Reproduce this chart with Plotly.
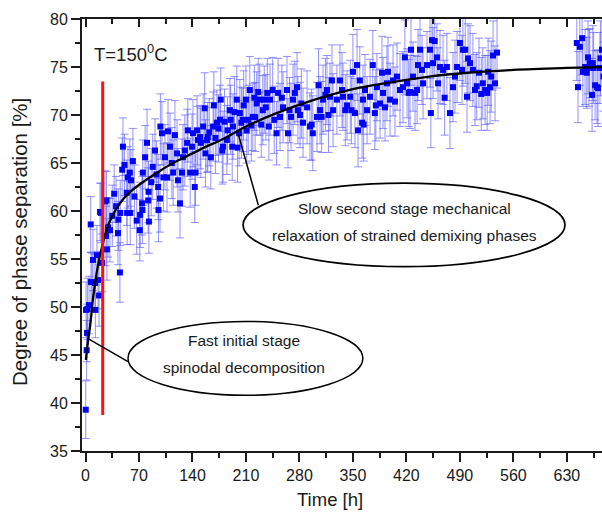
import plotly.graph_objects as go

# ---------------- data ----------------
time_early = [0.3, 0.7, 1.5, 2.0, 2.5, 4.6, 6.8, 7.2, 8.5, 9.8,
              12.4, 12.9, 15.0, 16.4, 17.7, 19.0, 20.3, 21.6, 25.5, 26.8,
              27.5, 28.0, 29.5, 32.0, 35.0, 37.5, 40.0]
sep_early = [39.3, 49.7, 45.5, 47.3, 49.8, 50.2, 58.6, 52.6, 52.6, 54.9,
             52.5, 49.7, 55.4, 52.8, 51.2, 59.9, 59.8, 54.6, 61.0, 57.4,
             61.1, 56.0, 58.3, 58.0, 59.5, 61.8, 60.5]
err_early = [3.0, 2.9, 3.1, 3.0, 3.2, 3.0, 2.9, 3.1, 3.0, 3.2,
             3.0, 2.9, 3.1, 3.0, 3.2, 3.0, 3.1, 3.0, 3.2, 3.1,
             3.0, 3.2, 3.1, 3.3, 3.2, 3.0, 3.1]

time_b = [42.5, 43.0, 45.0, 45.5, 48.0, 49.0, 51.0, 54.0, 54.5, 55.6,
          58.0, 58.5, 59.5, 62.0, 64.0, 67.0, 71.0, 71.5, 74.0, 74.5,
          75.0, 78.0, 80.5, 82.0, 82.5, 83.0, 86.0, 88.0, 91.0, 93.0,
          95.0, 95.5, 97.5, 98.0, 100.0, 102.0]
sep_b = [57.7, 59.1, 53.6, 59.8, 64.3, 66.7, 64.8, 61.9, 59.8, 63.5,
         64.0, 59.8, 63.2, 65.2, 61.5, 59.0, 58.0, 59.6, 60.8, 60.1,
         64.0, 65.6, 67.1, 61.1, 62.0, 58.9, 63.0, 64.6, 66.3, 63.8,
         62.5, 60.1, 61.3, 68.8, 68.1, 63.5]
err_b = [3.3, 3.2, 3.1, 3.4, 3.3, 3.0, 3.2, 3.4, 3.3, 3.2,
         3.5, 3.3, 3.2, 3.4, 3.3, 3.5, 3.2, 3.4, 3.3, 3.5,
         3.4, 3.3, 3.5, 3.4, 3.2, 3.3, 3.5, 3.4, 3.3, 3.5,
         3.4, 3.3, 3.5, 3.4, 3.3, 3.5]

time_c = [104, 106.7, 108, 110.6, 113, 114.7, 117, 119.8, 121, 123.7,
          126.3, 127.6, 130, 133, 134, 137, 139.4, 140.7, 143, 144,
          146, 147, 150, 151, 154, 156, 157, 159, 160, 162,
          164, 167, 168, 170, 172, 174, 176, 177, 179, 180,
          182, 185, 186, 189, 190, 192, 193, 195, 198, 199,
          201, 202, 204, 206, 207, 210, 211, 213, 215, 217,
          219, 221, 222, 224, 226, 228, 230, 232, 234, 236,
          238, 240, 241.5, 245, 247, 250, 252, 254.6, 257, 258.5,
          263.7, 265, 267, 269, 271.6, 274, 276.8, 278, 280.8, 282.5]
sep_c = [65.6, 63.5, 68.3, 66.7, 65.0, 64.0, 67.9, 66.0, 63.2, 60.8,
         64.0, 65.6, 66.3, 67.1, 68.4, 64.0, 66.7, 68.1, 62.5, 64.0,
         68.4, 67.4, 67.7, 67.1, 68.8, 70.7, 66.0, 67.4, 67.7, 68.2,
         65.6, 68.8, 71.0, 67.6, 69.2, 68.6, 69.5, 71.6, 66.3, 66.7,
         69.3, 67.4, 68.4, 70.5, 69.5, 66.7, 68.8, 70.3, 71.6, 66.6,
         68.1, 70.2, 69.2, 69.5, 71.0, 71.6, 68.4, 69.5, 72.6, 68.9,
         69.8, 71.8, 69.8, 71.2, 72.4, 71.6, 69.0, 70.5, 71.6, 70.8,
         72.3, 68.8, 71.6, 72.6, 69.5, 68.1, 72.3, 69.8, 71.8, 70.8,
         72.6, 68.1, 70.5, 69.8, 71.6, 72.3, 72.9, 70.5, 70.0, 71.2]
err_c = [3.4, 3.6, 3.3, 3.5, 3.7, 3.4, 3.6, 3.5, 3.3, 3.6,
         3.5, 3.4, 3.7, 3.5, 3.3, 3.6, 3.4, 3.5, 3.7, 3.4,
         3.6, 3.5, 3.3, 3.6, 3.4, 3.7, 3.5, 3.4, 3.6, 3.5,
         3.3, 3.6, 3.5, 3.7, 3.4, 3.5, 3.6, 3.3, 3.5, 3.7,
         3.4, 3.6, 3.5, 3.3, 3.6, 3.5, 3.4, 3.7, 3.5, 3.6,
         3.4, 3.5, 3.7, 3.3, 3.6, 3.5, 3.4, 3.6, 3.5, 3.7,
         3.5, 3.4, 3.6, 3.3, 3.5, 3.7, 3.4, 3.6, 3.5, 3.4,
         3.6, 3.5, 3.7, 3.4, 3.5, 3.3, 3.6, 3.5, 3.4, 3.7,
         3.5, 3.6, 3.4, 3.5, 3.7, 3.3, 3.6, 3.5, 3.4, 3.6]

time_d = [284.7, 290, 293.8, 296, 297.5, 303, 305, 307, 309, 310.9,
          314, 316, 318, 320, 322.6, 324, 329, 333, 335.7, 337,
          340, 342.3, 346.5, 348, 350, 352.7, 355.4, 356.7, 359, 362,
          363.2, 364, 365.8, 368.5, 372.4, 376, 378.7, 380, 381.4, 385.5,
          388, 389.4, 392, 394.5, 396, 398.6, 402.5, 405, 407.7, 411.6,
          415.5, 418, 420.8, 423, 424.7, 426, 428.6, 431.3, 434, 435.2,
          437.8, 440.4, 441.8, 447, 450.9, 452, 453.5, 454.8, 457, 460,
          461.4, 464, 468, 470, 473, 477, 481, 483.6, 486.3, 490,
          492.8, 494, 497, 499.3, 500.7, 503.3, 507, 509.8, 512, 515,
          518, 520, 523, 525.7, 527, 529.5, 531, 533.4, 536, 538.6]
sep_d = [69.2, 70.8, 68.8, 69.0, 68.1, 69.8, 73.1, 70.5, 69.8, 71.6,
         72.1, 72.6, 70.0, 71.9, 73.6, 70.5, 71.6, 73.6, 72.6, 71.9,
         70.5, 71.0, 71.9, 70.5, 74.5, 70.2, 75.2, 68.4, 73.6, 69.2,
         71.6, 69.0, 72.6, 70.5, 71.9, 75.2, 70.2, 71.0, 72.9, 71.2,
         74.4, 72.3, 70.8, 73.3, 74.5, 71.6, 73.6, 71.4, 74.0, 72.6,
         72.9, 76.0, 73.3, 72.3, 72.4, 76.8, 74.0, 72.3, 72.6, 75.2,
         76.8, 74.7, 73.3, 75.2, 76.8, 70.2, 77.8, 75.4, 77.7, 76.0,
         73.3, 75.0, 74.7, 71.8, 75.0, 70.2, 72.9, 74.0, 75.0, 77.5,
         74.7, 76.8, 76.8, 71.9, 75.9, 75.4, 74.7, 72.6, 73.0, 74.4,
         72.2, 73.3, 72.6, 72.3, 74.5, 72.9, 74.0, 76.2, 73.3, 76.5]
err_d = [3.6, 3.8, 3.5, 3.7, 3.9, 3.6, 3.8, 3.5, 3.7, 3.6,
         3.8, 3.6, 3.9, 3.5, 3.7, 3.8, 3.6, 3.7, 3.9, 3.5,
         3.7, 3.6, 3.8, 3.5, 3.9, 3.6, 3.7, 3.8, 3.5, 3.7,
         3.6, 3.8, 3.7, 3.5, 3.9, 3.6, 3.8, 3.7, 3.5, 3.6,
         3.8, 3.7, 3.5, 3.9, 3.6, 3.8, 3.7, 3.6, 3.5, 3.8,
         3.7, 3.9, 3.6, 3.5, 3.8, 3.7, 3.6, 3.9, 3.5, 3.7,
         3.8, 3.6, 3.7, 3.5, 3.9, 3.6, 3.8, 3.7, 3.6, 3.5,
         3.7, 3.8, 3.6, 3.9, 3.5, 3.7, 3.6, 3.8, 3.7, 3.9,
         3.6, 3.8, 3.5, 3.7, 3.6, 3.9, 3.8, 3.7, 3.5, 3.6,
         3.8, 3.7, 3.6, 3.9, 3.5, 3.8, 3.7, 3.6, 3.9, 3.7]

time_late = [643, 644.6, 647, 650, 651, 653.8, 656, 657.7, 659, 660,
             663, 664, 665, 667, 669.5, 670.8, 673.3, 674, 676, 678]
sep_late = [77.5, 72.9, 77.1, 78.0, 74.5, 75.0, 74.4, 76.0, 74.9, 75.4,
            72.1, 75.4, 74.9, 73.1, 72.9, 72.8, 74.9, 75.9, 76.8, 74.0]
err_late = [3.9, 3.7, 4.0, 3.8, 3.6, 3.9, 3.7, 3.8, 4.0, 3.6,
            3.8, 3.9, 3.7, 3.6, 3.8, 4.0, 3.7, 3.9, 3.8, 3.6]

# fitted curve
fit_time = [0.5, 3, 6, 10, 16, 22, 30, 40, 50, 60, 75, 90, 110, 130, 155,
            180, 210, 250, 300, 350, 400, 450, 500, 560, 630, 680]
fit_sep = [44.5, 46.3, 48.0, 51.0, 54.2, 56.4, 58.6, 60.2, 61.3, 62.1, 63.0,
           63.8, 64.8, 65.6, 66.6, 67.5, 68.8, 70.2, 71.6, 72.7, 73.4, 74.0,
           74.4, 74.7, 74.9, 75.0]

# red marker line (end of fast stage)
stage_line_time = [22.5, 22.5]
stage_line_sep = [38.75, 73.5]

# annotation pointer lines
pointer_fast_time = [55.6, 3.3]
pointer_fast_sep = [44.3, 46.7]
pointer_slow_time = [226.2, 200.0]
pointer_slow_sep = [60.6, 68.0]

x_ticks = [0, 70, 140, 210, 280, 350, 420, 490, 560, 630]
x_minor = [35, 105, 175, 245, 315, 385, 455, 525, 595, 665]
y_ticks = [35, 40, 45, 50, 55, 60, 65, 70, 75, 80]
X_RANGE = [-4.6, 676]
Y_RANGE = [35, 80]

# ---------------- figure ----------------
time_all = time_early + time_b + time_c + time_d + time_late
sep_all = sep_early + sep_b + sep_c + sep_d + sep_late
err_all = err_early + err_b + err_c + err_d + err_late

FONT = "Liberation Sans, Arial, sans-serif"
INK = "#1a1a1a"

fig = go.Figure()

fig.add_trace(go.Scatter(
    x=time_all, y=sep_all, mode="markers",
    marker=dict(symbol="square", size=6, color="#0000ff", line=dict(width=0)),
    error_y=dict(type="data", array=err_all, visible=True,
                 color="rgba(80,80,255,0.62)", thickness=1, width=4),
    showlegend=False, hoverinfo="x+y"))

fig.add_trace(go.Scatter(
    x=fit_time, y=fit_sep, mode="lines", line=dict(color="black", width=2.3, shape="spline"),
    showlegend=False))

fig.add_trace(go.Scatter(
    x=stage_line_time, y=stage_line_sep, mode="lines",
    line=dict(color="#ff1010", width=3), showlegend=False))

for px_, py_ in [(pointer_fast_time, pointer_fast_sep), (pointer_slow_time, pointer_slow_sep)]:
    fig.add_trace(go.Scatter(x=px_, y=py_, mode="lines",
                             line=dict(color="black", width=1.5), showlegend=False))

# invisible trace to activate the top axis
fig.add_trace(go.Scatter(x=[fit_time[0]], y=[fit_sep[0]], xaxis="x2", mode="markers",
                         marker=dict(opacity=0), showlegend=False, hoverinfo="skip"))

# ellipses
fig.add_shape(type="circle", xref="x", yref="y", x0=55.6, x1=363, y0=40.8, y1=48.5,
              line=dict(color="black", width=1.5), fillcolor="rgba(255,255,255,0)")
fig.add_shape(type="circle", xref="x", yref="y", x0=206.2, x1=627.6, y0=54.2, y1=62.9,
              line=dict(color="black", width=1.7), fillcolor="rgba(255,255,255,0)")

tf = dict(family=FONT, size=15.5, color=INK)
fig.add_annotation(x=207.5, y=46.5, text="Fast initial stage", showarrow=False, font=tf,
                   xanchor="center", yanchor="middle")
fig.add_annotation(x=207.5, y=43.75, text="spinodal decomposition", showarrow=False, font=tf,
                   xanchor="center", yanchor="middle")
fig.add_annotation(x=418, y=60.3, text="Slow second stage mechanical", showarrow=False, font=tf,
                   xanchor="center", yanchor="middle")
fig.add_annotation(x=418, y=57.5, text="relaxation of strained demixing phases", showarrow=False,
                   font=tf, xanchor="center", yanchor="middle")
fig.add_annotation(x=8.0, y=76.5, xanchor="left", yanchor="middle", text="T=150<sup>0</sup>C",
                   showarrow=False, font=dict(family=FONT, size=18.5, color=INK))

# axis titles
fig.add_annotation(xref="paper", yref="paper", x=0.477, y=-0.113, text="Time [h]",
                   xanchor="center", yanchor="middle",
                   showarrow=False, font=dict(family=FONT, size=18.5, color=INK))
fig.add_annotation(xref="paper", yref="paper", x=-0.119, y=0.484,
                   text="Degree of phase separation [%]", textangle=-90,
                   xanchor="center", yanchor="middle",
                   showarrow=False, font=dict(family=FONT, size=20.5, color=INK))

axis_common = dict(showgrid=False, zeroline=False, showline=True, linewidth=2,
                   linecolor=INK, tickcolor=INK, tickwidth=1.5)

fig.update_layout(
    width=602, height=512,
    margin=dict(l=82, r=0, t=19, b=61),
    paper_bgcolor="white", plot_bgcolor="white",
    font=dict(family=FONT, size=16, color=INK),
    xaxis=dict(range=X_RANGE, tickvals=x_ticks, ticks="outside", ticklen=9,
               tickfont=dict(family=FONT, size=16, color=INK),
               minor=dict(tickvals=x_minor, ticks="outside", ticklen=5,
                          tickcolor=INK, tickwidth=1.5),
               **axis_common),
    xaxis2=dict(range=X_RANGE, overlaying="x", side="top", anchor="y",
                tickvals=x_ticks, ticks="inside", ticklen=8, showticklabels=False,
                minor=dict(tickvals=x_minor, ticks="inside", ticklen=5,
                           tickcolor=INK, tickwidth=1.5),
                **axis_common),
    yaxis=dict(range=Y_RANGE, tickvals=y_ticks, ticks="outside", ticklen=9,
               tickfont=dict(family=FONT, size=16, color=INK),
               minor=dict(dtick=2.5, tick0=35, ticks="outside", ticklen=5,
                          tickcolor=INK, tickwidth=1.5),
               **axis_common),
)

fig.write_html("out.html", config={"displayModeBar": False},
               post_script="document.body.style.margin='0px';document.body.style.overflow='hidden';")
